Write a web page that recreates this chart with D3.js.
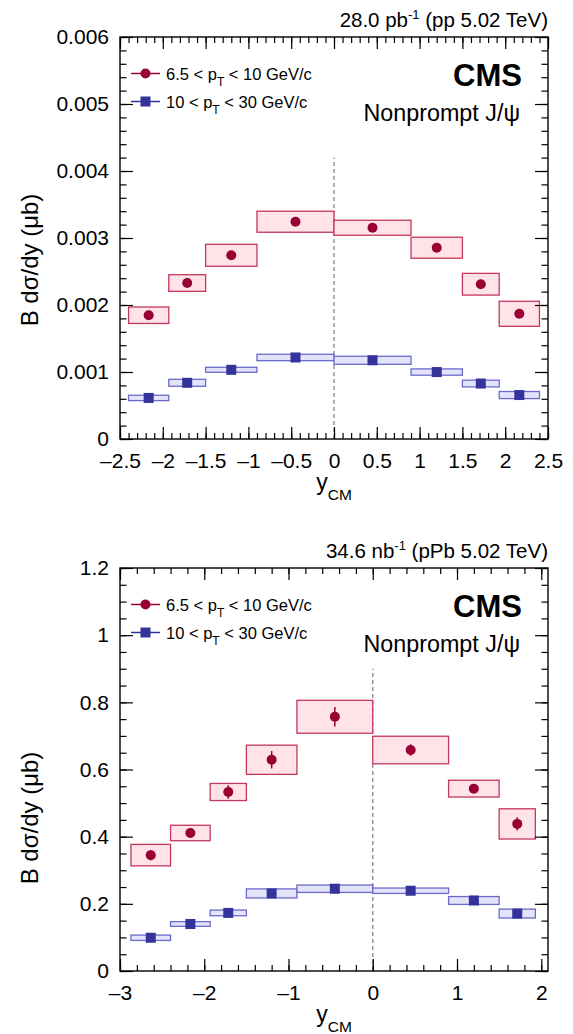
<!DOCTYPE html>
<html>
<head>
<meta charset="utf-8">
<script src="https://cdn.jsdelivr.net/npm/d3@7"></script>
<style>
body { margin: 0; background: #fff; }
text { font-family: "Liberation Sans", Arial, Helvetica, sans-serif; fill: #000; }
</style>
</head>
<body>
<svg id="chart" width="573" height="1034"></svg>
<script>
// ---- pp 5.02 TeV (top panel) ----
var ppEdges = [-2.4, -1.93, -1.5, -0.9, 0, 0.9, 1.5, 1.93, 2.4];
var ppY = [-2.165, -1.715, -1.2, -0.45, 0.45, 1.2, 1.715, 2.165];
var ppLow = [0.001847, 0.002328, 0.002742, 0.003243, 0.003153, 0.002855, 0.002310, 0.001869];
var ppLowStat = [0.00004, 0.00004, 0.00004, 0.00005, 0.00005, 0.00004, 0.00004, 0.00004];
var ppLowSyst = [0.000123, 0.000124, 0.000164, 0.000157, 0.000112, 0.000157, 0.000162, 0.000187];
var ppHigh = [0.000613, 0.000839, 0.001033, 0.001217, 0.001175, 0.000999, 0.000828, 0.000656];
var ppHighStat = [0.00002, 0.00002, 0.00002, 0.00002, 0.00002, 0.00002, 0.00002, 0.00002];
var ppHighSyst = [0.00004, 0.000052, 0.000037, 0.000048, 0.00006, 0.000047, 0.00005, 0.000053];
var ppXTicks = [-2.5, -2, -1.5, -1, -0.5, 0, 0.5, 1, 1.5, 2, 2.5];
var ppXLabels = ["\u20132.5", "\u20132", "\u20131.5", "\u20131", "\u20130.5", "0", "0.5", "1", "1.5", "2", "2.5"];
var ppYTicks = [0, 0.001, 0.002, 0.003, 0.004, 0.005, 0.006];
var ppYLabels = ["0", "0.001", "0.002", "0.003", "0.004", "0.005", "0.006"];

// ---- pPb 5.02 TeV (bottom panel) ----
var pPbEdges = [-2.87, -2.4, -1.93, -1.5, -0.9, 0, 0.9, 1.5, 1.93];
var pPbY = [-2.635, -2.165, -1.715, -1.2, -0.45, 0.45, 1.2, 1.715];
var pPbLow = [0.345, 0.411, 0.533, 0.629, 0.757, 0.658, 0.543, 0.438];
var pPbLowStat = [0.015, 0.012, 0.020, 0.026, 0.029, 0.017, 0.010, 0.020];
var pPbLowSyst = [0.032, 0.023, 0.0255, 0.0435, 0.049, 0.041, 0.025, 0.045];
var pPbHigh = [0.099, 0.140, 0.173, 0.231, 0.245, 0.239, 0.210, 0.171];
var pPbHighStat = [0.004, 0.004, 0.004, 0.005, 0.005, 0.005, 0.005, 0.005];
var pPbHighSyst = [0.008, 0.007, 0.0085, 0.0135, 0.011, 0.008, 0.0117, 0.0133];
var pPbXTicks = [-3, -2, -1, 0, 1, 2];
var pPbXLabels = ["\u20133", "\u20132", "\u20131", "0", "1", "2"];
var pPbYTicks = [0, 0.2, 0.4, 0.6, 0.8, 1, 1.2];
var pPbYLabels = ["0", "0.2", "0.4", "0.6", "0.8", "1", "1.2"];

var lowLabel = ["6.5 < p", "T", " < 10 GeV/c"];
var highLabel = ["10 < p", "T", " < 30 GeV/c"];

var red = "#990033", redFill = "#ffe3e8", redLine = "#c4375c";
var blue = "#333399", blueFill = "#e3e3fb", blueLine = "#6a6acb";

var svg = d3.select("#chart");
var left = 120, right = 548;

function drawPanel(p) {
  var g = svg.append("g");
  var x = d3.scaleLinear().domain(p.xDomain).range([left, right]);
  var y = d3.scaleLinear().domain(p.yDomain).range([p.bottom, p.top]);

  // header
  var h = g.append("text").attr("x", right).attr("y", p.top - 10)
    .attr("text-anchor", "end").attr("font-size", 20.5);
  h.append("tspan").text(p.lumi);
  h.append("tspan").attr("font-size", 13).attr("dy", -8).text("-1");
  h.append("tspan").attr("dy", 8).text(p.system);

  // dashed line at 0
  g.append("line").attr("x1", x(0)).attr("x2", x(0))
    .attr("y1", y(0)).attr("y2", y(p.dashTop))
    .attr("stroke", "#888").attr("stroke-width", 1.3).attr("stroke-dasharray", "4,3");

  // systematic boxes
  function boxes(vals, syst, fill, line) {
    g.selectAll(null).data(vals).enter().append("rect")
      .attr("x", function(d, i) { return x(p.edges[i]); })
      .attr("width", function(d, i) { return x(p.edges[i + 1]) - x(p.edges[i]); })
      .attr("y", function(d, i) { return y(d + syst[i]); })
      .attr("height", function(d, i) { return y(d - syst[i]) - y(d + syst[i]); })
      .attr("fill", fill).attr("stroke", line).attr("stroke-width", 1.3);
  }
  boxes(p.low, p.lowSyst, redFill, redLine);
  boxes(p.high, p.highSyst, blueFill, blueLine);

  // stat error bars
  function bars(vals, stat, col) {
    g.selectAll(null).data(vals).enter().append("line")
      .attr("x1", function(d, i) { return x(p.centers[i]); })
      .attr("x2", function(d, i) { return x(p.centers[i]); })
      .attr("y1", function(d, i) { return y(d - stat[i]); })
      .attr("y2", function(d, i) { return y(d + stat[i]); })
      .attr("stroke", col).attr("stroke-width", 1.5);
  }
  bars(p.low, p.lowStat, red);
  bars(p.high, p.highStat, blue);

  g.selectAll(null).data(p.low).enter().append("circle")
    .attr("cx", function(d, i) { return x(p.centers[i]); })
    .attr("cy", function(d) { return y(d); })
    .attr("r", 5).attr("fill", red);
  g.selectAll(null).data(p.high).enter().append("rect")
    .attr("x", function(d, i) { return x(p.centers[i]) - 5; })
    .attr("y", function(d) { return y(d) - 5; })
    .attr("width", 10).attr("height", 10).attr("fill", blue);

  // axes: inward ticks on all four sides
  function styleAxis(a) {
    a.select(".domain").remove();
    a.selectAll(".tick line").attr("stroke", "#000").attr("stroke-width", 1.2);
    a.selectAll("text").attr("font-size", 21).attr("font-family", "Liberation Sans, Arial, sans-serif");
  }
  var xMinor = d3.range(p.xDomain[0], p.xDomain[1] + 1e-9, p.xMinorStep).map(function(v) { return +v.toFixed(4); });
  var yMinor = d3.range(p.yDomain[0], p.yDomain[1] + 1e-12, p.yMinorStep).map(function(v) { return +v.toFixed(6); });

  g.append("g").attr("transform", "translate(0," + p.bottom + ")")
    .call(d3.axisBottom(x).tickValues(p.xTicks).tickFormat(function(d, i) { return p.xLabels[i]; })
      .tickSizeInner(-12).tickSizeOuter(0).tickPadding(14)).call(styleAxis);
  g.append("g").attr("transform", "translate(0," + p.bottom + ")")
    .call(d3.axisBottom(x).tickValues(xMinor).tickFormat("").tickSizeInner(-6).tickSizeOuter(0)).call(styleAxis);
  g.append("g").attr("transform", "translate(0," + p.top + ")")
    .call(d3.axisTop(x).tickValues(p.xTicks).tickFormat("").tickSizeInner(-12).tickSizeOuter(0)).call(styleAxis);
  g.append("g").attr("transform", "translate(0," + p.top + ")")
    .call(d3.axisTop(x).tickValues(xMinor).tickFormat("").tickSizeInner(-6).tickSizeOuter(0)).call(styleAxis);

  g.append("g").attr("transform", "translate(" + left + ",0)")
    .call(d3.axisLeft(y).tickValues(p.yTicks).tickFormat(function(d, i) { return p.yLabels[i]; })
      .tickSizeInner(-13).tickSizeOuter(0).tickPadding(11)).call(styleAxis);
  g.append("g").attr("transform", "translate(" + left + ",0)")
    .call(d3.axisLeft(y).tickValues(yMinor).tickFormat("").tickSizeInner(-6.5).tickSizeOuter(0)).call(styleAxis);
  g.append("g").attr("transform", "translate(" + right + ",0)")
    .call(d3.axisRight(y).tickValues(p.yTicks).tickFormat("").tickSizeInner(-13).tickSizeOuter(0)).call(styleAxis);
  g.append("g").attr("transform", "translate(" + right + ",0)")
    .call(d3.axisRight(y).tickValues(yMinor).tickFormat("").tickSizeInner(-6.5).tickSizeOuter(0)).call(styleAxis);

  g.append("rect").attr("x", left).attr("y", p.top)
    .attr("width", right - left).attr("height", p.bottom - p.top)
    .attr("fill", "none").attr("stroke", "#000").attr("stroke-width", 1.4);

  // axis titles
  var xt = g.append("text").attr("x", 334).attr("y", p.bottom + 51)
    .attr("text-anchor", "middle").attr("font-size", 23);
  xt.append("tspan").text("y");
  xt.append("tspan").attr("font-size", 15.5).attr("dy", 10).text("CM");

  g.append("text").attr("transform", "translate(38," + p.yTitleY + ") rotate(-90)")
    .attr("text-anchor", "middle").attr("font-size", 24).text("B d\u03c3/dy (\u03bcb)");

  // CMS labels
  g.append("text").attr("x", 522).attr("y", p.top + 49).attr("text-anchor", "end")
    .attr("font-size", 31).attr("font-weight", "bold").text("CMS");
  g.append("text").attr("x", 520).attr("y", p.top + 84).attr("text-anchor", "end")
    .attr("font-size", 23.3).text("Nonprompt J/\u03c8");

  // legend
  function legendRow(yy, col, label, marker) {
    g.append("line").attr("x1", 131).attr("x2", 160).attr("y1", yy).attr("y2", yy)
      .attr("stroke", col).attr("stroke-width", 1.5);
    if (marker === "circle") {
      g.append("circle").attr("cx", 145.5).attr("cy", yy).attr("r", 5).attr("fill", col);
    } else {
      g.append("rect").attr("x", 140.5).attr("y", yy - 5).attr("width", 10).attr("height", 10).attr("fill", col);
    }
    var t = g.append("text").attr("x", 166).attr("y", yy + 6).attr("font-size", 16.5);
    t.append("tspan").text(label[0]);
    t.append("tspan").attr("font-size", 12).attr("dy", 6).text(label[1]);
    t.append("tspan").attr("dy", -6).text(label[2]);
  }
  legendRow(p.top + 36.5, red, lowLabel, "circle");
  legendRow(p.top + 64.5, blue, highLabel, "square");
}

drawPanel({
  top: 37, bottom: 439, xDomain: [-2.5, 2.5], yDomain: [0, 0.006],
  xMinorStep: 0.1, yMinorStep: 0.0002, dashTop: 0.0042, yTitleY: 260,
  lumi: "28.0 pb", system: " (pp 5.02 TeV)",
  edges: ppEdges, centers: ppY,
  low: ppLow, lowStat: ppLowStat, lowSyst: ppLowSyst,
  high: ppHigh, highStat: ppHighStat, highSyst: ppHighSyst,
  xTicks: ppXTicks, xLabels: ppXLabels, yTicks: ppYTicks, yLabels: ppYLabels
});

drawPanel({
  top: 568, bottom: 971, xDomain: [-3, 2.08], yDomain: [0, 1.2],
  xMinorStep: 0.2, yMinorStep: 0.05, dashTop: 0.9, yTitleY: 818,
  lumi: "34.6 nb", system: " (pPb 5.02 TeV)",
  edges: pPbEdges, centers: pPbY,
  low: pPbLow, lowStat: pPbLowStat, lowSyst: pPbLowSyst,
  high: pPbHigh, highStat: pPbHighStat, highSyst: pPbHighSyst,
  xTicks: pPbXTicks, xLabels: pPbXLabels, yTicks: pPbYTicks, yLabels: pPbYLabels
});
</script>
</body>
</html>
